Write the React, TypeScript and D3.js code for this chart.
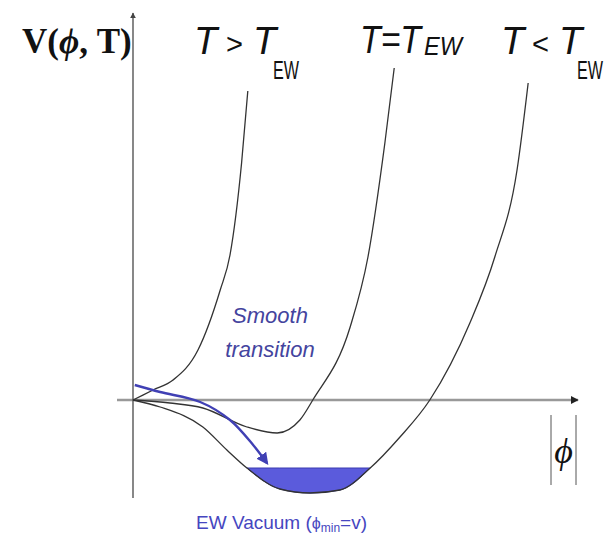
import React from "react";
import * as d3 from "d3";

// Field value |phi| (dimensionless) and potential V for each temperature
const phiHigh = [0, 0.045, 0.09, 0.146, 0.196, 0.218, 0.244, 0.258];
const vHigh = [0, 0.1, 0.2, 0.5, 1.1, 1.45, 2.37, 3.09];

const phiCrit = [0, 0.083, 0.157, 0.256, 0.324, 0.375, 0.404, 0.488, 0.528, 0.566, 0.587];
const vCrit = [0, -0.03, -0.08, -0.27, -0.33, -0.2, 0, 0.73, 1.43, 2.57, 3.32];

const phiLow = [0, 0.061, 0.157, 0.211, 0.256, 0.33, 0.398, 0.465, 0.533, 0.6, 0.667, 0.757, 0.813, 0.863, 0.888];
const vLow = [0, -0.07, -0.27, -0.5, -0.68, -0.89, -0.93, -0.9, -0.68, -0.37, 0, 0.77, 1.43, 2.3, 3.17];

// Level that bounds the shaded vacuum well
const vacuumLevel = -0.68;

// Path of the "smooth transition" arrow
const phiArrow = [0.004, 0.061, 0.151, 0.218, 0.27, 0.301];
const vArrow = [0.15, 0.08, -0.02, -0.2, -0.45, -0.63];

const W = 606;
const H = 538;

export default function App() {
  const x = d3.scaleLinear().domain([0, 1]).range([133, 578]);
  const y = d3.scaleLinear().domain([-1, 4]).range([500, 0]);

  const zip = (xs: number[], ys: number[]) => xs.map((p, i) => [p, ys[i]] as [number, number]);

  const line = d3
    .line<[number, number]>()
    .x((d) => x(d[0]))
    .y((d) => y(d[1]))
    .curve(d3.curveMonotoneX);

  const arrowLine = d3
    .line<[number, number]>()
    .x((d) => x(d[0]))
    .y((d) => y(d[1]))
    .curve(d3.curveCatmullRom);

  const lowPts = zip(phiLow, vLow);
  const wellPts = lowPts.filter((d) => d[1] <= vacuumLevel + 1e-9);
  const well = d3
    .area<[number, number]>()
    .x((d) => x(d[0]))
    .y0(y(vacuumLevel))
    .y1((d) => y(d[1]))
    .curve(d3.curveMonotoneX);

  const curveColor = "#333";
  const blue = "#4040b4";
  const sans = "'Liberation Sans', Arial, sans-serif";
  const serif = "'Liberation Serif', 'Times New Roman', serif";

  return (
    <svg
      width={W}
      height={H}
      viewBox={`0 0 ${W} ${H}`}
      style={{ position: "absolute", left: 0, top: 0, background: "#fff" }}
    >
      <defs>
        <marker id="blueHead" viewBox="0 0 10 10" refX="8" refY="5" markerWidth="5" markerHeight="5" orient="auto" markerUnits="strokeWidth">
          <path d="M0,0 L10,5 L0,10 z" fill={blue} />
        </marker>
        <marker id="axisHead" viewBox="0 0 10 10" refX="9" refY="5" markerWidth="3.5" markerHeight="3" orient="auto" markerUnits="strokeWidth">
          <path d="M0,0 L10,5 L0,10 z" fill="#222" />
        </marker>
        <marker id="yHead" viewBox="0 0 10 10" refX="9" refY="5" markerWidth="6" markerHeight="4" orient="auto" markerUnits="strokeWidth">
          <path d="M0,0 L10,5 L0,10 z" fill="#444" />
        </marker>
      </defs>

      {/* axes */}
      <line x1={117} y1={y(0)} x2={x(1)} y2={y(0)} stroke="#999" strokeWidth={2.6} markerEnd="url(#axisHead)" />
      <line x1={x(0)} y1={y(-0.98)} x2={x(0)} y2={13} stroke="#555" strokeWidth={1.4} markerEnd="url(#yHead)" />

      {/* vacuum well */}
      <path d={well(wellPts) ?? ""} fill="#5b5bdc" stroke="#3a3ab0" strokeWidth={1} />

      {/* potential curves */}
      <path d={line(zip(phiHigh, vHigh)) ?? ""} fill="none" stroke={curveColor} strokeWidth={1.3} />
      <path d={line(zip(phiCrit, vCrit)) ?? ""} fill="none" stroke={curveColor} strokeWidth={1.3} />
      <path d={line(lowPts) ?? ""} fill="none" stroke={curveColor} strokeWidth={1.3} />

      {/* transition arrow */}
      <path
        d={arrowLine(zip(phiArrow, vArrow)) ?? ""}
        fill="none"
        stroke={blue}
        strokeWidth={2.4}
        markerEnd="url(#blueHead)"
      />

      {/* axis title */}
      <text x={22} y={53} fontFamily={serif} fontWeight="bold" fontSize={35} fill="#111">
        V(<tspan fontStyle="italic">ϕ</tspan>, T)
      </text>

      {/* temperature labels */}
      <g fontFamily={sans} fill="#111">
        <text x={194} y={54} fontSize={38} fontStyle="italic">T</text>
        <text x={226} y={54} fontSize={30} textLength={17} lengthAdjust="spacingAndGlyphs">&gt;</text>
        <text x={253} y={54} fontSize={38} fontStyle="italic">T</text>
        <text x={273} y={79} fontSize={25} textLength={26} lengthAdjust="spacingAndGlyphs">EW</text>

        <text x={360} y={53} fontSize={38} fontStyle="italic" textLength={61} lengthAdjust="spacingAndGlyphs">T=T</text>
        <text x={424} y={55} fontSize={25} fontStyle="italic" textLength={38} lengthAdjust="spacingAndGlyphs">EW</text>

        <text x={501} y={54} fontSize={38} fontStyle="italic">T</text>
        <text x={532} y={54} fontSize={30} textLength={17} lengthAdjust="spacingAndGlyphs">&lt;</text>
        <text x={559} y={54} fontSize={38} fontStyle="italic">T</text>
        <text x={577} y={79} fontSize={25} textLength={26} lengthAdjust="spacingAndGlyphs">EW</text>
      </g>

      {/* smooth transition note */}
      <g fontFamily={sans} fontStyle="italic" fontSize={22} fill="#44449e" textAnchor="middle">
        <text x={270} y={323}>Smooth</text>
        <text x={270} y={357}>transition</text>
      </g>

      {/* vacuum label */}
      <text x={196} y={529} fontFamily={sans} fontSize={19} fill="#4646c0">
        EW Vacuum  (<tspan fontSize={16}>ϕ</tspan>
        <tspan fontSize={12} dy={3}>min</tspan>
        <tspan dy={-3}>=v)</tspan>
      </text>

      {/* |phi| axis label */}
      <line x1={551} y1={415} x2={551} y2={485} stroke="#555" strokeWidth={1} />
      <line x1={576} y1={415} x2={576} y2={485} stroke="#555" strokeWidth={1} />
      <text x={563.5} y={463} fontFamily={serif} fontStyle="italic" fontSize={36} textAnchor="middle" fill="#111">
        ϕ
      </text>
    </svg>
  );
}
